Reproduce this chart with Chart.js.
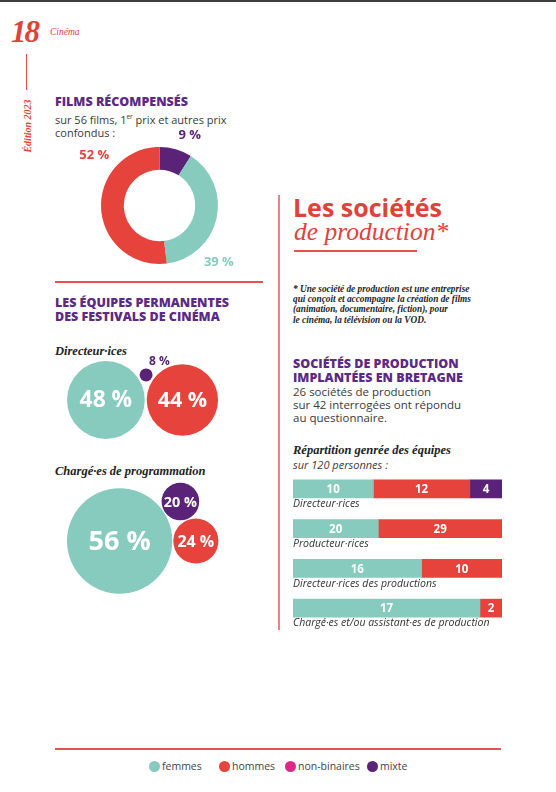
<!DOCTYPE html>
<html>
<head>
<meta charset="utf-8">
<script src="https://cdn.jsdelivr.net/npm/chart.js@4.4.0/dist/chart.umd.min.js"></script>
<style>
  body { margin: 0; width: 556px; height: 792px; position: relative; overflow: hidden; background: #fff; font-family: "Open Sans", sans-serif; color: #3a3a3a; }
  .abs { position: absolute; white-space: nowrap; }
  canvas { position: absolute; }
  .rule { position: absolute; background: #e4544d; }
  .title { font-weight: 800; font-size: 12.5px; line-height: 14px; color: #5b2a84; }
  .body { font-size: 11.5px; line-height: 13px; color: #3a3a3a; }
  .serif { font-family: "Liberation Serif", serif; font-style: italic; font-weight: bold; }
  .legend { position: absolute; top: 759px; font-size: 10.5px; color: #444; display: flex; align-items: center; white-space: nowrap; }
  .legend i { display: inline-block; width: 11px; height: 11px; border-radius: 50%; margin-right: 2px; }
</style>
</head>
<body>
<div class="abs" style="left:0;top:0;width:556px;height:2px;background:#3d3d3d"></div>
<div class="abs serif" style="left:11px;top:14px;font-size:31px;letter-spacing:-2px;color:#e0423a">18</div>
<div class="abs" style="left:50px;top:27px;font-family:'Liberation Serif',serif;font-style:italic;font-size:9.5px;color:#e0423a">Cinéma</div>
<div class="rule" style="left:26px;top:54px;width:1.2px;height:36px"></div>
<div class="abs serif" style="left:-2px;top:120px;width:60px;text-align:center;font-size:10px;line-height:12px;color:#e0423a;transform:rotate(-90deg)">Édition 2023</div>

<div class="abs title" style="left:55px;top:95px">FILMS RÉCOMPENSÉS</div>
<div class="abs body" style="left:55px;top:110px;font-size:11px">sur 56 films, 1<sup style="font-size:6.5px">er</sup> prix et autres prix<br>confondus :</div>
<canvas id="donut" width="200" height="150" style="left:60px;top:130px"></canvas>
<div class="rule" style="left:55px;top:281px;width:208px;height:1.5px"></div>

<div class="abs title" style="left:55px;top:296px">LES ÉQUIPES PERMANENTES<br>DES FESTIVALS DE CINÉMA</div>
<div class="abs serif" style="left:55px;top:344px;font-size:12.5px;color:#222">Directeur·ices</div>
<canvas id="directors" width="215" height="100" style="left:55px;top:350px"></canvas>
<div class="abs serif" style="left:55px;top:464px;font-size:12.5px;color:#222">Chargé·es de programmation</div>
<canvas id="programmers" width="215" height="130" style="left:55px;top:475px"></canvas>

<div class="rule" style="left:278px;top:195px;width:1.5px;height:435px;background:#e9837d"></div>
<div class="abs" style="left:293px;top:190px;font-size:25px;font-weight:bold;color:#e0423a">Les sociétés</div>
<div class="abs" style="left:294px;top:217px;font-family:'Liberation Serif',serif;font-style:italic;font-size:25.5px;color:#e0423a">de production*</div>
<div class="rule" style="left:294px;top:250px;width:123px;height:2px"></div>
<div class="abs serif" style="left:293px;top:284px;font-size:9.3px;line-height:10.2px;color:#1e1e1e">* Une société de production est une entreprise<br>qui conçoit et accompagne la création de films<br>(animation, documentaire, fiction), pour<br>le cinéma, la télévision ou la VOD.</div>
<div class="abs title" style="left:293px;top:357px">SOCIÉTÉS DE PRODUCTION<br>IMPLANTÉES EN BRETAGNE</div>
<div class="abs body" style="left:293px;top:385px">26 sociétés de production<br>sur 42 interrogées ont répondu<br>au questionnaire.</div>
<div class="abs serif" style="left:293px;top:443px;font-size:12.5px;color:#222">Répartition genrée des équipes</div>
<div class="abs body" style="left:293px;top:458px;font-style:italic;font-size:11px">sur 120 personnes :</div>
<canvas id="teams" width="209" height="175" style="left:293px;top:469px"></canvas>

<div class="rule" style="left:55px;top:748px;width:446px;height:1.5px"></div>
<div id="legend"></div>

<script>
// Data

const genders = ['femmes', 'hommes', 'non-binaires', 'mixte'];
const genderColors = ['#86cbbe', '#e5433c', '#e1268a', '#5b2378'];

// films récompensés, sur 56 films (%)
const filmLabels = ['mixte', 'femmes', 'hommes'];
const filmShares = [9, 39, 52];

// équipes permanentes des festivals (%)
const bubbleLabels = ['femmes', 'hommes', 'mixte'];
const directorShares = [48, 44, 8];
const programmerShares = [56, 24, 20];

// sociétés de production, sur 120 personnes
const teamRoles = ['Directeur·rices', 'Producteur·rices', 'Directeur·rices des productions', 'Chargé·es et/ou assistant·es de production'];
const teamFemmes = [10, 20, 16, 17];
const teamHommes = [12, 29, 10, 2];
const teamMixte = [4, 0, 0, 0];

// where each legend entry starts (px)
const legendX = [149, 219, 285, 367];


function colorOf(name) {
    return genderColors[genders.indexOf(name)];
}

const base = {
    responsive: false,
    animation: false,
    events: [],
    plugins: { legend: { display: false }, tooltip: { enabled: false } }
};

// Donut

const donutLabels = {
    id: 'donutLabels',
    afterDatasetsDraw(chart) {
        var ctx = chart.ctx, meta = chart.getDatasetMeta(0);
        ctx.save();
        ctx.font = 'bold 13px "Open Sans"';
        ctx.textAlign = 'center';
        ctx.textBaseline = 'middle';
        meta.data.forEach(function (arc, i) {
            var txt = filmShares[i] + ' %';
            var a = arc.startAngle + 0.72 * (arc.endAngle - arc.startAngle);
            var c = Math.cos(a), s = Math.sin(a);
            // push the label out so that its box clears the ring
            var ext = Math.abs(c) * ctx.measureText(txt).width / 2 + Math.abs(s) * 5;
            var r = arc.outerRadius + 9 + ext;
            ctx.fillStyle = colorOf(filmLabels[i]);
            ctx.fillText(txt, arc.x + c * r, arc.y + s * r);
        });
        ctx.restore();
    }
};

new Chart(document.getElementById('donut'), {
    type: 'doughnut',
    data: { labels: filmLabels, datasets: [{ data: filmShares, backgroundColor: filmLabels.map(colorOf), borderWidth: 0 }] },
    options: Object.assign({}, base, { cutout: '61%', layout: { padding: { left: 41, right: 42, top: 17, bottom: 16 } } }),
    plugins: [donutLabels]
});

// Bubbles : first two side by side, the third one resting on both

function packBubbles(values, scale, left, cy, gap) {
    var r = values.map(function (v) { return v * scale; });
    var a = { x: left + r[0], y: cy, r: r[0] };
    var b = { x: a.x + r[0] + r[1] + gap, y: cy, r: r[1] };
    var dA = r[0] + r[2] + gap, dB = r[1] + r[2] + gap, d = b.x - a.x;
    var along = (dA * dA - dB * dB + d * d) / (2 * d);
    var c = { x: a.x + along, y: cy - Math.sqrt(dA * dA - along * along), r: r[2] };
    return [a, b, c];
}

function bubbleText(values) {
    return {
        id: 'bubbleText',
        afterDatasetsDraw(chart) {
            var ctx = chart.ctx;
            ctx.save();
            ctx.textBaseline = 'middle';
            chart.getDatasetMeta(0).data.forEach(function (pt, i) {
                var r = pt.options.radius;
                var txt = values[i] + ' %';
                if (r < 10) {
                    ctx.font = 'bold 12px "Open Sans"';
                    ctx.textAlign = 'left';
                    ctx.fillStyle = colorOf(bubbleLabels[i]);
                    ctx.fillText(txt, pt.x + 3, pt.y - r - 7);
                } else {
                    ctx.font = 'bold ' + Math.min(27, 6.5 + r * 0.42).toFixed(1) + 'px "Open Sans"';
                    ctx.textAlign = 'center';
                    ctx.fillStyle = '#fff';
                    ctx.fillText(txt, pt.x, pt.y + 1);
                }
            });
            ctx.restore();
        }
    };
}

function bubbleChart(id, values, scale, left, cy, gap) {
    var canvas = document.getElementById(id);
    return new Chart(canvas, {
        type: 'bubble',
        data: { datasets: [{ data: packBubbles(values, scale, left, cy, gap), backgroundColor: bubbleLabels.map(colorOf), borderWidth: 0, clip: false }] },
        options: Object.assign({}, base, {
            layout: { padding: 0, autoPadding: false },
            scales: {
                x: { type: 'linear', min: 0, max: canvas.width, display: false },
                y: { type: 'linear', min: 0, max: canvas.height, reverse: true, display: false }
            }
        }),
        plugins: [bubbleText(values)]
    });
}

bubbleChart('directors', directorShares, 0.81, 12, 50, 2);
bubbleChart('programmers', programmerShares, 0.94, 12, 66, 1);

// Stacked bars (each row at 100 %)

const teamTotals = teamFemmes.map(function (v, i) { return v + teamHommes[i] + teamMixte[i]; });
function share(arr) { return arr.map(function (v, i) { return v / teamTotals[i] * 100; }); }

const barText = {
    id: 'barText',
    afterDatasetsDraw(chart) {
        var ctx = chart.ctx;
        ctx.save();
        chart.data.datasets.forEach(function (ds, di) {
            chart.getDatasetMeta(di).data.forEach(function (bar, i) {
                var p = bar.getProps(['x', 'y', 'base', 'height'], true);
                if (ds.counts[i] > 0) {
                    ctx.font = 'bold 11.5px "Open Sans"';
                    ctx.textAlign = 'center';
                    ctx.textBaseline = 'middle';
                    ctx.fillStyle = '#fff';
                    ctx.fillText(ds.counts[i], (p.x + p.base) / 2, p.y + 1);
                }
                if (di === 0) {
                    ctx.font = 'italic 10.5px "Open Sans"';
                    ctx.textAlign = 'left';
                    ctx.textBaseline = 'top';
                    ctx.fillStyle = '#333';
                    ctx.fillText(teamRoles[i], chart.chartArea.left, p.y + p.height / 2 + 1);
                }
            });
        });
        ctx.restore();
    }
};

new Chart(document.getElementById('teams'), {
    type: 'bar',
    data: {
        labels: teamRoles,
        datasets: [
            { label: 'femmes', data: share(teamFemmes), counts: teamFemmes, backgroundColor: colorOf('femmes') },
            { label: 'hommes', data: share(teamHommes), counts: teamHommes, backgroundColor: colorOf('hommes') },
            { label: 'mixte', data: share(teamMixte), counts: teamMixte, backgroundColor: colorOf('mixte') }
        ]
    },
    options: Object.assign({}, base, {
        indexAxis: 'y',
        barThickness: 18,
        borderWidth: 0,
        layout: { padding: { bottom: 16 } },
        scales: {
            x: { stacked: true, min: 0, max: 100, display: false },
            y: { stacked: true, display: false }
        }
    }),
    plugins: [barText]
});

// Legend
var legend = document.getElementById('legend');
genders.forEach(function (g, i) {
    var s = document.createElement('div');
    s.className = 'legend';
    s.style.left = legendX[i] + 'px';
    s.innerHTML = '<i style="background:' + genderColors[i] + '"></i>' + g;
    legend.appendChild(s);
});
</script>
</body>
</html>
